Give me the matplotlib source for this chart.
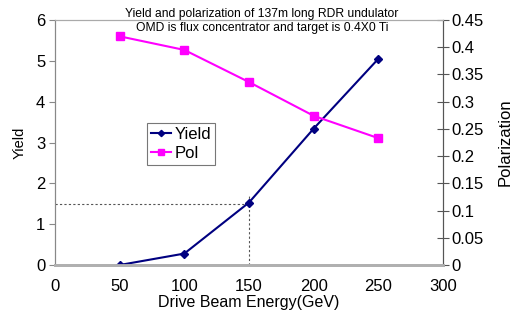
import matplotlib
matplotlib.use("Agg")
import matplotlib.pyplot as plt

energy = [50, 100, 150, 200, 250]
yield_vals = [0.0, 0.28, 1.53, 3.34, 5.05]
pol_vals = [0.42, 0.395, 0.336, 0.274, 0.233]
title_lines = ["Yield and polarization of 137m long RDR undulator",
               "OMD is flux concentrator and target is 0.4X0 Ti"]

plt.rcParams['font.family'] = ['Liberation Sans', 'DejaVu Sans']

fig = plt.figure(figsize=(5.15, 3.11), dpi=100)
ax = fig.add_axes([55/515, 1 - 265/311, (443-55)/515, (265-20)/311])
ax2 = ax.twinx()

ax.plot(energy, yield_vals, color='#000080', marker='D', markersize=4, lw=1.5, label='Yield', zorder=3)
ax2.plot(energy, pol_vals, color='#ff00ff', marker='s', markersize=6, lw=1.5, label='Pol', zorder=3)

# dotted guide lines at 150 GeV
ax.plot([0, 150], [1.5, 1.5], color='#555555', lw=0.8, ls=(0, (2, 2)), zorder=2)
ax.plot([150, 150], [0, 1.72], color='#555555', lw=0.8, ls=(0, (2, 2)), zorder=2)

ax.set_xlim(0, 300)
ax.set_ylim(0, 6)
ax2.set_ylim(0, 0.45)
ax.set_xticks([0, 50, 100, 150, 200, 250, 300])
ax.set_yticks([0, 1, 2, 3, 4, 5, 6])
ax2.set_yticks([0, 0.05, 0.1, 0.15, 0.2, 0.25, 0.3, 0.35, 0.4, 0.45])
ax2.set_yticklabels(['0', '0.05', '0.1', '0.15', '0.2', '0.25', '0.3', '0.35', '0.4', '0.45'])

for a in (ax, ax2):
    a.spines['top'].set_color('#aaaaaa')
    a.spines['top'].set_linewidth(0.8)
    a.spines['bottom'].set_color('#b0b0b0')
    a.spines['bottom'].set_linewidth(2.0)
    a.spines['left'].set_color('#888888')
    a.spines['left'].set_linewidth(0.8)
    a.spines['right'].set_color('#555555')
    a.spines['right'].set_linewidth(0.8)

ax.tick_params(axis='x', length=0, labelsize=12, pad=10)
ax.tick_params(axis='y', direction='out', length=4, color='#888888', labelsize=12, pad=3)
ax2.tick_params(axis='y', direction='inout', length=8, color='#555555', labelsize=12, pad=2)

ax.set_xlabel('Drive Beam Energy(GeV)', fontsize=11.5, labelpad=1)
ax.set_ylabel('Yield', fontsize=10.5, labelpad=7)
ax2.set_ylabel('Polarization', fontsize=12, labelpad=10)

fig.text(262/515, 1 - 14/311, title_lines[0], ha='center', va='center', fontsize=8.7)
fig.text(262/515, 1 - 28/311, title_lines[1], ha='center', va='center', fontsize=8.7)

h1, l1 = ax.get_legend_handles_labels()
h2, l2 = ax2.get_legend_handles_labels()
leg = ax2.legend(h1 + h2, l1 + l2, loc='upper left', bbox_to_anchor=((147-55)/388, (265-123)/245),
                 fontsize=12, frameon=True, fancybox=False, handlelength=1.2, handletextpad=0.2,
                 borderpad=0.25, labelspacing=0.2, borderaxespad=0, markerscale=0.8)
leg.get_frame().set_edgecolor('#555555')
leg.get_frame().set_linewidth(0.8)

fig.savefig('out.png', dpi=100)
